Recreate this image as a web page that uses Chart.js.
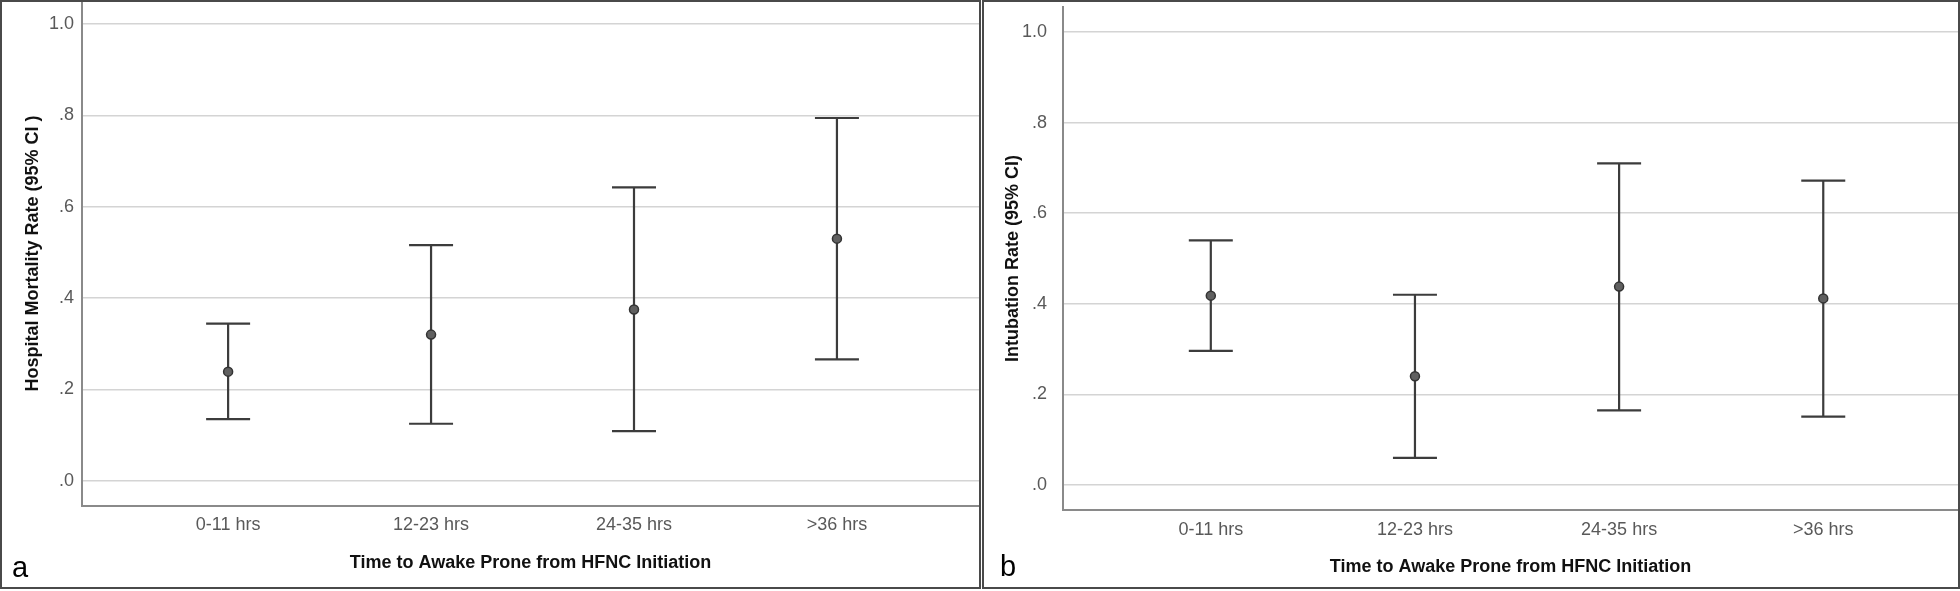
<!DOCTYPE html>
<html>
<head>
<meta charset="utf-8">
<script src="https://cdn.jsdelivr.net/npm/chart.js@4.4.0/dist/chart.umd.min.js"></script>
<style>
  html, body { margin: 0; padding: 0; background: #fff; }
  body { width: 1960px; height: 591px; position: relative; overflow: hidden; font-family: "Liberation Sans", Arial, sans-serif; }
  canvas { position: absolute; top: 0; }
  #chartA { left: 0; }
  #chartB { left: 982px; }
  .frame { position: absolute; top: 0; height: 589px; border: 2px solid #4a4a4a; box-sizing: border-box; pointer-events: none; }
  .panel-letter { position: absolute; font-size: 29px; color: #000; line-height: 33px; }
</style>
</head>
<body>
<canvas id="chartA" width="981" height="591"></canvas>
<canvas id="chartB" width="978" height="591"></canvas>
<div class="frame" style="left:0;width:981px"></div>
<div class="frame" style="left:982px;width:978px"></div>
<div class="panel-letter" style="left:12px;top:551px">a</div>
<div class="panel-letter" style="left:1000px;top:550px">b</div>

<script>
// Data
const categories = ['0-11 hrs', '12-23 hrs', '24-35 hrs', '>36 hrs'];
const categoryPositions = [1, 2, 3, 4];

const mortalityMean = [0.239, 0.320, 0.375, 0.530];
const mortalityLower = [0.135, 0.125, 0.109, 0.266];
const mortalityUpper = [0.344, 0.516, 0.642, 0.794];

const intubationMean = [0.418, 0.240, 0.438, 0.412];
const intubationLower = [0.296, 0.060, 0.165, 0.151];
const intubationUpper = [0.540, 0.420, 0.710, 0.672];

const yTickValues = [0, 0.2, 0.4, 0.6, 0.8, 1.0];
const yTickLabels = ['.0', '.2', '.4', '.6', '.8', '1.0'];

const xTitle = 'Time to Awake Prone from HFNC Initiation';

Chart.defaults.font.family = '"Liberation Sans", Arial, sans-serif';

// Draw CI whiskers with caps under the mean points
const errorBarPlugin = {
    id: 'errorBars',
    beforeDatasetsDraw: function (chart, args, opts) {
        const ctx = chart.ctx;
        const x = chart.scales.x;
        const y = chart.scales.y;
        ctx.save();
        ctx.strokeStyle = opts.color;
        ctx.lineWidth = opts.lineWidth;
        opts.lower.forEach(function (lo, i) {
            const px = x.getPixelForValue(categoryPositions[i]);
            const yLo = y.getPixelForValue(lo);
            const yHi = y.getPixelForValue(opts.upper[i]);
            ctx.beginPath();
            ctx.moveTo(px, yLo);
            ctx.lineTo(px, yHi);
            ctx.moveTo(px - opts.capHalf, yLo);
            ctx.lineTo(px + opts.capHalf, yLo);
            ctx.moveTo(px - opts.capHalf, yHi);
            ctx.lineTo(px + opts.capHalf, yHi);
            ctx.stroke();
        });
        ctx.restore();
    }
};

function makeChart(canvasId, cfg) {
    const ctx = document.getElementById(canvasId).getContext('2d');
    return new Chart(ctx, {
        type: 'scatter',
        data: {
            datasets: [{
                data: categoryPositions.map(function (p, i) { return { x: p, y: cfg.mean[i] }; }),
                pointRadius: 4.5,
                pointBackgroundColor: '#606060',
                pointBorderColor: '#333333',
                pointBorderWidth: 1.5,
                showLine: false
            }]
        },
        options: {
            responsive: false,
            animation: false,
            devicePixelRatio: 1,
            layout: {
                autoPadding: false,
                padding: { left: 0, right: cfg.padRight, top: cfg.padTop, bottom: 0 }
            },
            plugins: {
                legend: { display: false },
                tooltip: { enabled: false },
                errorBars: {
                    lower: cfg.lower,
                    upper: cfg.upper,
                    color: '#3c3c3c',
                    lineWidth: 2.2,
                    capHalf: 22
                }
            },
            scales: {
                x: {
                    type: 'linear',
                    min: cfg.xMin,
                    max: cfg.xMax,
                    afterBuildTicks: function (s) { s.ticks = categoryPositions.map(function (v) { return { value: v }; }); },
                    afterFit: function (s) {
                        s.height = cfg.xAxisHeight;
                        s.paddingLeft = 0;
                        s.paddingRight = 0;
                    },
                    grid: { display: false, drawTicks: false },
                    border: { display: true, color: '#8a8a8a', width: 2 },
                    ticks: {
                        padding: cfg.xTickPad,
                        color: '#595959',
                        font: { size: 18 },
                        autoSkip: false,
                        maxRotation: 0,
                        callback: function (v, i) { return categories[i]; }
                    },
                    title: {
                        display: true,
                        text: xTitle,
                        color: '#111111',
                        font: { size: 18, weight: 'bold' },
                        padding: { top: 0, bottom: cfg.xTitlePad }
                    }
                },
                y: {
                    min: -0.055,
                    max: cfg.yMax,
                    afterBuildTicks: function (s) { s.ticks = yTickValues.map(function (v) { return { value: v }; }); },
                    afterFit: function (s) {
                        s.width = cfg.yAxisWidth;
                        s.paddingTop = 0;
                        s.paddingBottom = 0;
                    },
                    grid: { color: '#d4d4d4', lineWidth: 1.5, drawTicks: false },
                    border: { color: '#8a8a8a', width: 2 },
                    ticks: {
                        padding: cfg.yTickPad,
                        color: '#595959',
                        font: { size: 18 },
                        callback: function (v, i) { return yTickLabels[i]; }
                    },
                    title: {
                        display: true,
                        text: cfg.yTitle,
                        color: '#111111',
                        font: { size: 18, weight: 'bold' },
                        padding: { top: cfg.yTitlePad, bottom: 0 }
                    }
                }
            }
        },
        plugins: [errorBarPlugin]
    });
}

makeChart('chartA', {
    mean: mortalityMean, lower: mortalityLower, upper: mortalityUpper,
    yTitle: 'Hospital Mortality Rate (95% CI )',
    xMin: 0.28, xMax: 4.70, yMax: 1.05,
    padTop: 1, padRight: 2,
    xAxisHeight: 85, yAxisWidth: 82,
    xTickPad: 8, xTitlePad: 17, yTickPad: 8, yTitlePad: 22
});

makeChart('chartB', {
    mean: intubationMean, lower: intubationLower, upper: intubationUpper,
    yTitle: 'Intubation Rate (95% CI)',
    xMin: 0.276, xMax: 4.66, yMax: 1.055,
    padTop: 7, padRight: 2,
    xAxisHeight: 81, yAxisWidth: 81,
    xTickPad: 9, xTitlePad: 13, yTickPad: 16, yTitlePad: 20
});
</script>
</body>
</html>
